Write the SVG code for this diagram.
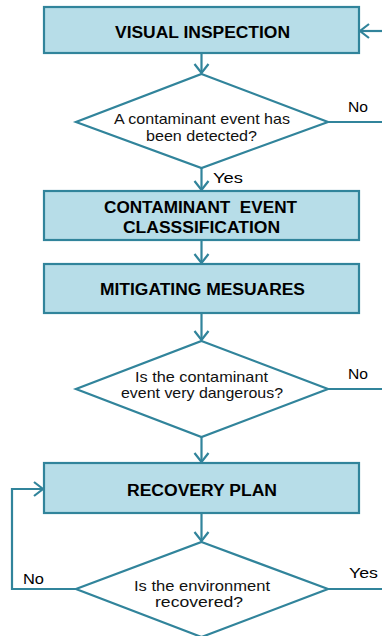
<svg xmlns="http://www.w3.org/2000/svg" width="382" height="636" viewBox="0 0 382 636">
<style>
.box{fill:#b7dde8;stroke:#31849b;stroke-width:2.2}
.dia{fill:#ffffff;stroke:#31849b;stroke-width:2.2}
.ln{fill:none;stroke:#31849b;stroke-width:2.2}
.bt{font-family:"Liberation Sans",Arial,sans-serif;font-weight:bold;font-size:16px;fill:#000}
.dt{font-family:"Liberation Sans",Arial,sans-serif;font-size:14.5px;fill:#111}
.lt{font-family:"Liberation Sans",Arial,sans-serif;font-size:15px;fill:#000}
</style>
<defs>
<marker id="arr" markerUnits="userSpaceOnUse" viewBox="-12 -8 14 16" refX="0" refY="0" markerWidth="14" markerHeight="16" orient="auto" overflow="visible">
<path d="M-9,-7 L0,0 L-9,7" fill="none" stroke="#31849b" stroke-width="2.2"/>
</marker>
</defs>
<rect width="382" height="636" fill="#ffffff"/>
<g id="connectors">
<path class="ln" d="M201.5,53 V73" marker-end="url(#arr)"/>
<path class="ln" d="M201.5,168 V190" marker-end="url(#arr)"/>
<path class="ln" d="M201.5,240 V263" marker-end="url(#arr)"/>
<path class="ln" d="M201.5,313 V340" marker-end="url(#arr)"/>
<path class="ln" d="M201.5,437 V462" marker-end="url(#arr)"/>
<path class="ln" d="M201.5,513 V541" marker-end="url(#arr)"/>
<path class="ln" d="M328,122 H384"/>
<path class="ln" d="M384,31 H360" marker-end="url(#arr)"/>
<path class="ln" d="M328,389 H384"/>
<path class="ln" d="M328,589 H384"/>
<path class="ln" d="M76,589 H12 V489 H43" marker-end="url(#arr)"/>
<text class="lt" x="348" y="111.5" textLength="20" lengthAdjust="spacingAndGlyphs">No</text>
<text class="lt" x="213" y="182.5" textLength="30" lengthAdjust="spacingAndGlyphs">Yes</text>
<text class="lt" x="348" y="378.5" textLength="20" lengthAdjust="spacingAndGlyphs">No</text>
<text class="lt" x="23" y="583.5" textLength="21" lengthAdjust="spacingAndGlyphs">No</text>
<text class="lt" x="349" y="578" textLength="29" lengthAdjust="spacingAndGlyphs">Yes</text>
</g>
<g id="visual-inspection">
<rect class="box" x="44" y="7" width="315" height="46"/>
<text class="bt" x="115" y="37.5" textLength="175" lengthAdjust="spacingAndGlyphs">VISUAL INSPECTION</text>
</g>
<g id="decision-detected">
<polygon class="dia" points="201.5,74 328,122 201.5,168 76,122"/>
<text class="dt" x="114" y="124" textLength="176" lengthAdjust="spacingAndGlyphs">A contaminant event has</text>
<text class="dt" x="146" y="141" textLength="111" lengthAdjust="spacingAndGlyphs">been detected?</text>
</g>
<g id="classification">
<rect class="box" x="44" y="191" width="315" height="49"/>
<text class="bt" x="104" y="212.5" textLength="193" lengthAdjust="spacingAndGlyphs" xml:space="preserve">CONTAMINANT  EVENT</text>
<text class="bt" x="123" y="232.5" textLength="157" lengthAdjust="spacingAndGlyphs">CLASSSIFICATION</text>
</g>
<g id="mitigating">
<rect class="box" x="44" y="264" width="315" height="49"/>
<text class="bt" x="100" y="295" textLength="205" lengthAdjust="spacingAndGlyphs">MITIGATING MESUARES</text>
</g>
<g id="decision-dangerous">
<polygon class="dia" points="201.5,341 328,389 201.5,437 76,389"/>
<text class="dt" x="135" y="381.5" textLength="133" lengthAdjust="spacingAndGlyphs">Is the contaminant</text>
<text class="dt" x="121" y="397.5" textLength="162" lengthAdjust="spacingAndGlyphs">event very dangerous?</text>
</g>
<g id="recovery-plan">
<rect class="box" x="44" y="463" width="315" height="50"/>
<text class="bt" x="127" y="495.5" textLength="150" lengthAdjust="spacingAndGlyphs">RECOVERY PLAN</text>
</g>
<g id="decision-recovered">
<polygon class="dia" points="201.5,542 328,589 201.5,637 76,589"/>
<text class="dt" x="134" y="590.5" textLength="136" lengthAdjust="spacingAndGlyphs">Is the environment</text>
<text class="dt" x="155" y="606.5" textLength="88" lengthAdjust="spacingAndGlyphs">recovered?</text>
</g>
</svg>
